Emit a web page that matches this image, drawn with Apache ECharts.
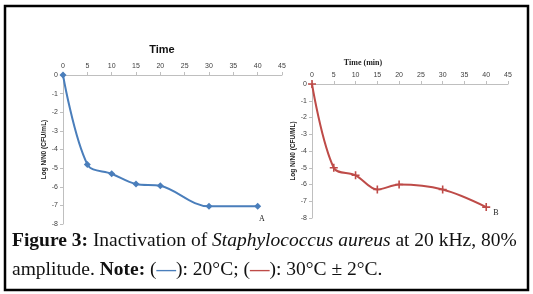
<!DOCTYPE html>
<html><head><meta charset="utf-8">
<script src="https://cdn.jsdelivr.net/npm/echarts@6/dist/echarts.min.js"></script>
<style>html,body{margin:0;padding:0;background:#fff}#c{width:533px;height:294px}</style>
</head><body><div id="c"></div>
<script>
const timeTicks = [0,5,10,15,20,25,30,35,40,45];
const timesA = [0,5,10,15,20,30,40];
const logA = [0,-4.8,-5.3,-5.85,-5.95,-7.05,-7.05];
const timesB = [0,5,10,15,20,30,40];
const logB = [0,-5.0,-5.45,-6.3,-6.0,-6.3,-7.35];
const yTicks = [0,-1,-2,-3,-4,-5,-6,-7,-8];

const chart = echarts.init(document.getElementById('c'), null, {renderer:'canvas'});
const axisGray = '#bfbfbf';
const lbl = {fontSize:7, color:'#404040', fontFamily:'Liberation Sans'};
function xAx(gi){return {type:'value', gridIndex:gi, position:'top', min:0, max:45, interval:5,
  axisLine:{lineStyle:{color:axisGray}}, axisTick:{lineStyle:{color:axisGray}, length:3},
  splitLine:{show:false}, axisLabel:Object.assign({margin:5}, lbl)};}
function yAx(gi,name,gap){return {type:'value', gridIndex:gi, min:-8, max:0, interval:1,
  name:name, nameLocation:'middle', nameRotate:90, nameGap:gap,
  nameTextStyle:{fontSize:6.5, fontWeight:'bold', color:'#222', fontFamily:'Liberation Sans'},
  axisLine:{show:true, lineStyle:{color:axisGray}}, axisTick:{show:true, lineStyle:{color:axisGray}, length:3},
  splitLine:{show:false}, axisLabel:Object.assign({margin:5}, lbl)};}
const plusPath = 'path://M4,0H6V4H10V6H6V10H4V6H0V4H4Z';
const capFont = 'Liberation Serif';
const capSize = 19.5;
chart.setOption({
  animation:false,
  grid:[{left:63, top:75, width:219, height:149},{left:312, top:84, width:196, height:134}],
  xAxis:[xAx(0), xAx(1)],
  yAxis:[yAx(0,'Log N/N0 (CFU/mL)',12), yAx(1,'Log N/N0 (CFU/ML)',12)],
  series:[
    {type:'line', xAxisIndex:0, yAxisIndex:0, data:timesA.map((t,i)=>[t,logA[i]]), smooth:0.35,
     symbol:'diamond', symbolSize:7, lineStyle:{color:'#4a7ebb', width:2}, itemStyle:{color:'#4a7ebb'}},
    {type:'line', xAxisIndex:1, yAxisIndex:1, data:timesB.map((t,i)=>[t,logB[i]]), smooth:0.35,
     symbol:plusPath, symbolSize:8, lineStyle:{color:'#be4b48', width:2}, itemStyle:{color:'#be4b48'}}
  ],
  graphic:[
    {type:'rect', shape:{x:5, y:6, width:523, height:284}, style:{fill:null, stroke:'#000', lineWidth:2.5}, silent:true},
    {type:'text', x:162, y:50, style:{text:'Time', font:'bold 11px Liberation Sans', fill:'#111', align:'center', verticalAlign:'middle'}},
    {type:'text', x:363, y:63, style:{text:'Time (min)', font:'bold 8px Liberation Serif', fill:'#222', align:'center', verticalAlign:'middle'}},
    {type:'text', x:262, y:219, style:{text:'A', font:'8px Liberation Serif', fill:'#222', align:'center', verticalAlign:'middle'}},
    {type:'text', x:496, y:213, style:{text:'B', font:'8px Liberation Serif', fill:'#222', align:'center', verticalAlign:'middle'}},
    {type:'text', x:12, y:241, style:{
      text:'{b|Figure 3:} Inactivation of {i|Staphylococcus aureus} at 20 kHz, 80%',
      font:capSize+'px '+capFont, fill:'#111', verticalAlign:'middle',
      rich:{b:{fontWeight:'bold', fontSize:capSize, fontFamily:capFont}, i:{fontStyle:'italic', fontSize:capSize, fontFamily:capFont}}}},
    {type:'text', x:12, y:270, style:{
      text:'amplitude. {b|Note:} ({bl|—}): 20°C; ({rd|—}): 30°C ± 2°C.',
      font:capSize+'px '+capFont, fill:'#111', verticalAlign:'middle',
      rich:{b:{fontWeight:'bold', fontSize:capSize, fontFamily:capFont}, bl:{fill:'#4a7ebb', fontSize:capSize, fontWeight:'bold', fontFamily:capFont}, rd:{fill:'#be4b48', fontSize:capSize, fontWeight:'bold', fontFamily:capFont}}}}
  ]
});
</script></body></html>
